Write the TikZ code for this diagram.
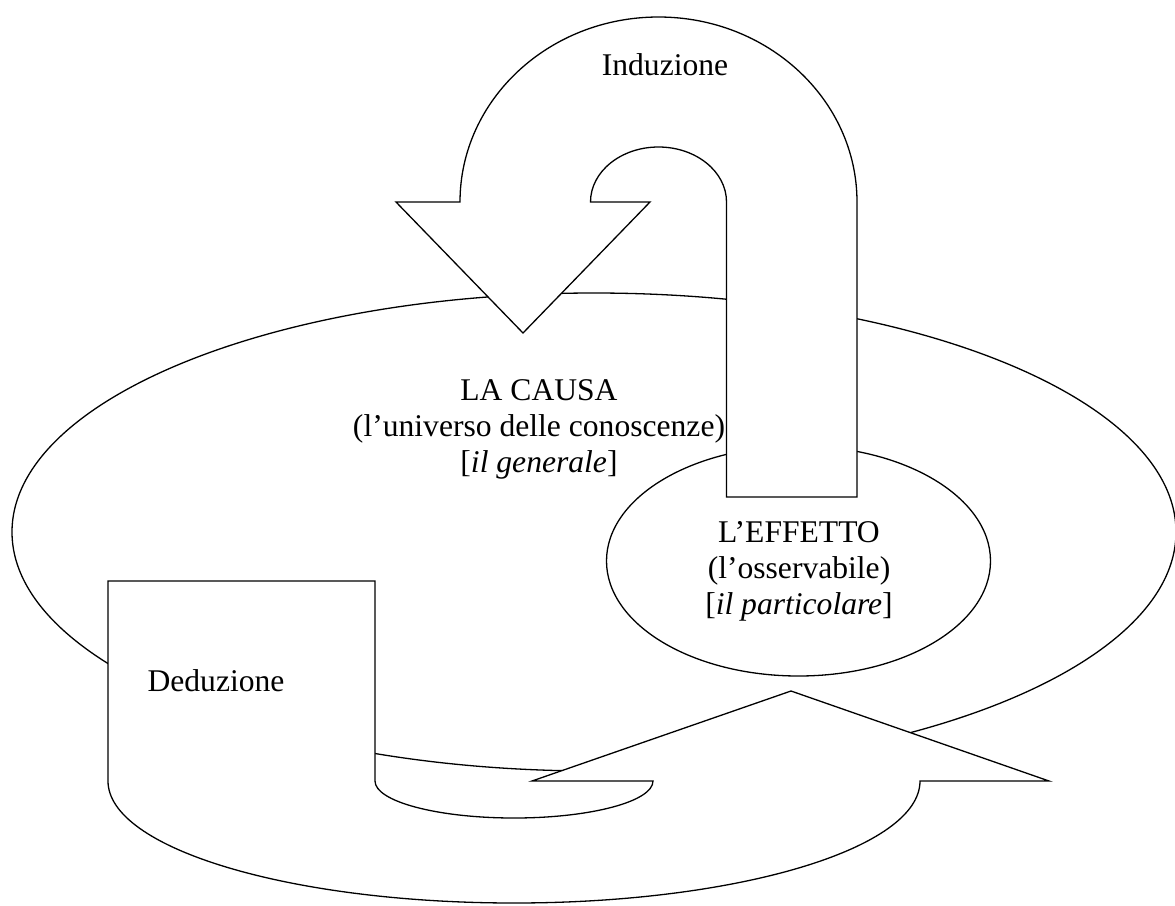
\documentclass[tikz,border=0pt]{standalone}
\usepackage{fontspec}
\setmainfont{Liberation Serif}
\begin{document}
\begin{tikzpicture}[x=1pt,y=-1pt,
  shp/.style={draw=black, fill=white, line width=1.3pt, line join=miter},
  lbl/.style={anchor=base, inner sep=0pt, font=\fontsize{31.6}{36}\selectfont}]
\useasboundingbox[fill=white] (0,0) rectangle (1175,905);
% big ellipse (la causa)
\draw[shp] (594,532) ellipse [x radius=582, y radius=239];
% small ellipse (l'effetto)
\draw[shp] (798.5,561) ellipse [x radius=192, y radius=115];
% induction U-turn arrow
\draw[shp] (857,497) -- (857,202)
  arc[start angle=0, end angle=-180, x radius=198.5, y radius=185]
  -- (396,202) -- (523,333) -- (650,202) -- (590.5,202)
  arc[start angle=180, end angle=360, x radius=68, y radius=55]
  -- (726.5,497) -- cycle;
% deduction U-turn arrow
\draw[shp] (108,581) -- (375,581) -- (375,781)
  arc[start angle=180, end angle=0, x radius=139, y radius=37]
  -- (532,781) -- (791,691) -- (1049,781) -- (920,781)
  arc[start angle=0, end angle=180, x radius=406, y radius=122]
  -- cycle;
% labels
\node[lbl] (ind) at (665,75) {Induzione};
\node[lbl] (ded) at (216,691) {Deduzione};
\node[lbl] (c1) at (539,400) {LA CAUSA};
\node[lbl] (c2) at (539,436) {(l’universo delle conoscenze)};
\node[lbl] (c3) at (539,472) {[\textit{il generale}]};
\node[lbl] (e1) at (799,542) {L’EFFETTO};
\node[lbl] (e2) at (799,578) {(l’osservabile)};
\node[lbl] (e3) at (799,614) {[\textit{il particolare}]};
\end{tikzpicture}
\end{document}
